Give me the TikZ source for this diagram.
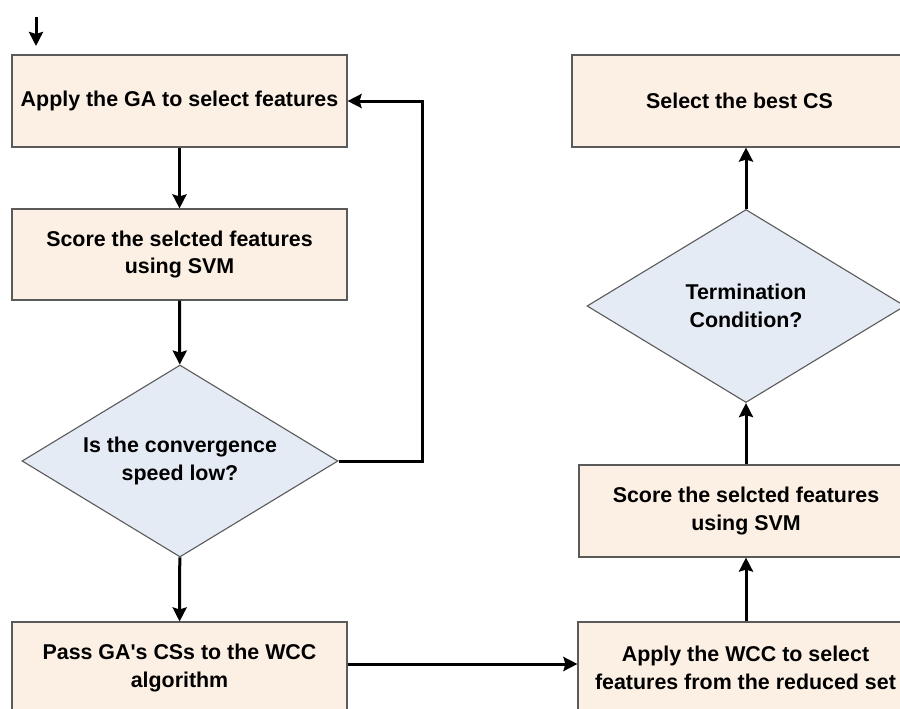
\documentclass[tikz,border=0pt]{standalone}
\usepackage{fontspec}
\setmainfont{Liberation Sans}
\usetikzlibrary{shapes.geometric,arrows.meta}
\definecolor{boxfill}{HTML}{FCEFE3}
\definecolor{diafill}{HTML}{E5EBF5}
\definecolor{edgegray}{HTML}{5A5A5A}
\tikzset{
  procbox/.style={draw=edgegray, line width=1.1pt, fill=boxfill, rectangle, inner sep=0pt,
    minimum width=335pt, minimum height=92pt, align=center,
    font=\fontsize{21.4}{27.5}\selectfont\bfseries},
  decision/.style={draw=edgegray, line width=1.1pt, fill=diafill, diamond, inner sep=0pt,
    shape aspect=1.65, minimum width=316pt, minimum height=192pt, align=center,
    font=\fontsize{21.4}{28}\selectfont\bfseries},
  flow/.style={line width=3pt, -{Stealth[length=14pt,width=14pt,inset=2pt]}}
}
\begin{document}
\begin{tikzpicture}[x=1pt,y=-1pt]
\useasboundingbox (0,0) rectangle (900,709);
\clip (0,0) rectangle (900,709);
% left column
\node[procbox] (ga) at (179.5,101) {Apply the GA to select features};
\node[procbox, minimum height=91pt] (svm1) at (179.5,254.5) {Score the selcted features\\using SVM};
\node[decision] (conv) at (180,461) {Is the convergence\\speed low?};
\node[procbox] (pass) at (179.5,668) {Pass GA\textquotesingle s CSs to the WCC\\algorithm};
% right column
\node[procbox] (best) at (739.5,101) {Select the best CS};
\node[decision, minimum width=318pt, minimum height=193pt] (term) at (746,306) {Termination\\Condition?};
\node[procbox, minimum width=334pt] (svm2) at (746,511) {Score the selcted features\\using SVM};
\node[procbox] (wcc) at (745.5,668) {Apply the WCC to select\\features from the reduced set};
% connectors
\coordinate (startTop) at (36,17);
\coordinate (startEnd) at (36,46);
\draw[flow] (startTop) -- (startEnd);
\draw[flow] (ga) -- (svm1);
\draw[flow] (svm1) -- (conv);
\draw[flow] (conv) -- (pass);
\coordinate (loopCorner) at (422,461);
\draw[flow] (conv.east) -- (loopCorner) |- (ga.east);
\draw[flow] ([yshift=4pt]pass.east) -- ([yshift=4pt]wcc.west);
\draw[flow] (wcc.north -| 746,0) -- (svm2.south);
\draw[flow] (svm2) -- (term);
\draw[flow] (term.north) -- (term.north |- best.south);
\end{tikzpicture}
\end{document}
